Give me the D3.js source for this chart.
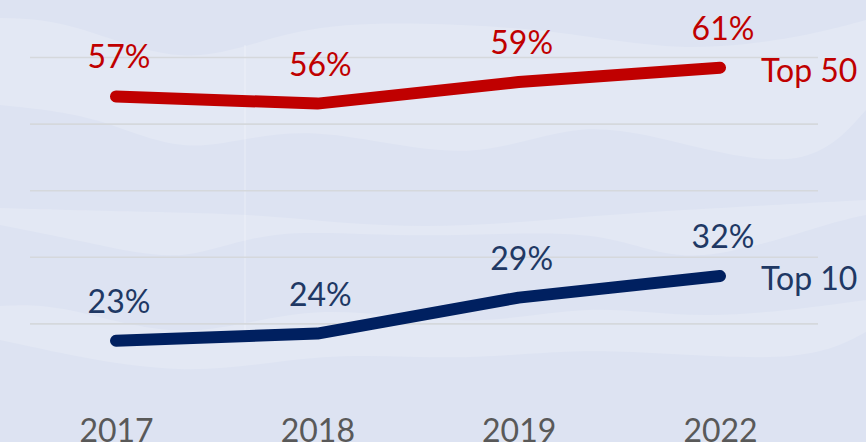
<!DOCTYPE html>
<html>
<head>
<meta charset="utf-8">
<script src="https://cdn.jsdelivr.net/npm/d3@7"></script>
<style>
  html, body { margin: 0; padding: 0; background: #dde3f2; }
  svg { display: block; }
  text { font-family: Lato, "Open Sans", sans-serif; }
</style>
</head>
<body>
<div id="chart"></div>
<script>
// data
const years = ["2017", "2018", "2019", "2022"]
const top50 = [57, 56, 59, 61]
const top10 = [23, 24, 29, 32]
const seriesNames = ["Top 50", "Top 10"]
const gridTicks = [10, 20, 30, 40, 50]

const width = 866
const height = 442

const svg = d3.select("#chart").append("svg")
    .attr("width", width)
    .attr("height", height)

svg.append("rect")
    .attr("width", width)
    .attr("height", height)
    .attr("fill", "#dde3f2")

// soft wave background
const waves = [
    {
        up: [[0, 18], [70, 20], [188, 72], [293, 25], [420, 22], [560, 30], [680, 53], [800, 38], [866, 20]],
        lo: [[0, 105], [100, 115], [188, 160], [300, 118], [470, 168], [580, 115], [700, 150], [812, 170], [866, 110]]
    },
    {
        up: [[0, 208], [150, 212], [265, 214], [420, 232], [608, 214], [720, 208], [866, 200]],
        lo: [[0, 225], [100, 245], [188, 264], [265, 226], [420, 240], [608, 226], [680, 271], [829, 223], [866, 215]]
    },
    {
        up: [[0, 306], [60, 303], [188, 345], [310, 300], [470, 330], [590, 302], [700, 322], [866, 300]],
        lo: [[0, 340], [188, 381], [320, 350], [470, 362], [590, 345], [800, 366], [866, 332]]
    }
]

const waveLine = d3.line().curve(d3.curveBasis)
waves.forEach(w => {
    const path = waveLine(w.up) + "L" + waveLine(w.lo.slice().reverse()).slice(1) + "Z"
    svg.append("path")
        .attr("d", path)
        .attr("fill", "#e3e8f4")
})

svg.append("line")
    .attr("x1", 245).attr("x2", 245)
    .attr("y1", 45).attr("y2", 330)
    .attr("stroke", "#ffffff")
    .attr("stroke-opacity", 0.2)
    .attr("stroke-width", 2)

// scales
const x = d3.scalePoint()
    .domain(years)
    .range([116, 720])

const y = d3.scaleLinear()
    .domain([0, 70])
    .range([506, 3])

const gridY = d3.scaleLinear()
    .domain([0, 50])
    .range([390, 57])

// gridlines
svg.append("g")
    .attr("transform", "translate(30,0)")
    .call(d3.axisLeft(gridY).tickValues(gridTicks).tickSize(-788).tickFormat(""))
    .call(g => g.select(".domain").remove())
    .call(g => g.selectAll(".tick line")
        .attr("stroke", "#d5d8dc")
        .attr("stroke-width", 1.6))

// year axis
svg.append("g")
    .attr("transform", "translate(0,442)")
    .call(d3.axisBottom(x).tickSize(0).tickPadding(0))
    .call(g => g.select(".domain").remove())
    .call(g => g.selectAll("text")
        .attr("dy", 0)
        .attr("font-size", 32)
        .attr("font-family", "Lato, 'Open Sans', sans-serif")
        .attr("fill", "#595959"))

const series = [
    { name: seriesNames[0], values: top50, color: "#c00000", labelColor: "#c00000" },
    { name: seriesNames[1], values: top10, color: "#002060", labelColor: "#203864" }
]

const line = d3.line()
    .x((d, i) => x(years[i]))
    .y(d => y(d))

series.forEach(s => {
    svg.append("path")
        .datum(s.values)
        .attr("d", line)
        .attr("fill", "none")
        .attr("stroke", s.color)
        .attr("stroke-width", 12)
        .attr("stroke-linecap", "round")
        .attr("stroke-linejoin", "round")

    svg.append("g")
        .selectAll("text")
        .data(s.values)
        .join("text")
            .attr("x", (d, i) => x(years[i]) + 3)
            .attr("y", d => y(d) - 28)
            .attr("text-anchor", "middle")
            .attr("font-size", 32)
            .attr("fill", s.labelColor)
            .text(d => d + "%")

    const last = s.values[s.values.length - 1]
    svg.append("text")
        .attr("x", x(years[years.length - 1]) + 41)
        .attr("y", y(last) + 14)
        .attr("font-size", 32)
        .attr("fill", s.labelColor)
        .text(s.name)
})
</script>
</body>
</html>
